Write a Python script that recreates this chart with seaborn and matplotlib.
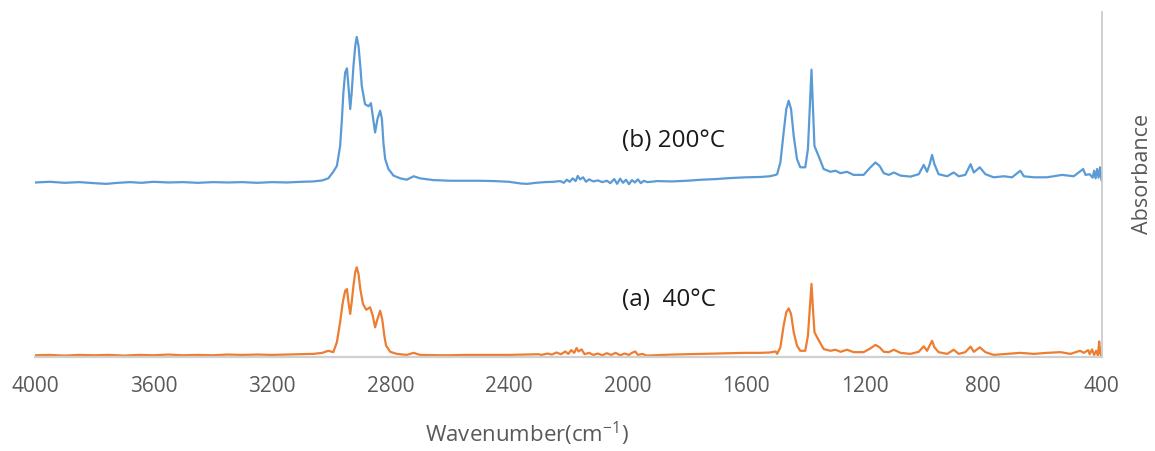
import numpy as np
import pandas as pd
import matplotlib
matplotlib.use("Agg")
import matplotlib.pyplot as plt
import seaborn as sns

# FTIR spectra (wavenumber in cm-1, absorbance in arbitrary units)
wn_b = [4000, 3950, 3900, 3850, 3800, 3760, 3720, 3680, 3640, 3600, 3550, 3500, 3450, 3400,
        3350, 3300, 3250, 3200, 3150, 3100, 3060, 3030, 3010, 2994, 2981, 2970, 2964, 2959,
        2953, 2947, 2942, 2936, 2931, 2925, 2919, 2914, 2908, 2902, 2897, 2886, 2874, 2866,
        2860, 2852, 2844, 2835, 2829, 2824, 2818, 2807, 2790, 2767, 2745, 2722, 2700, 2656,
        2598, 2550, 2500, 2450, 2400, 2360, 2338, 2310, 2280, 2250, 2227, 2215, 2205, 2195,
        2185, 2175, 2168, 2160, 2150, 2140, 2130, 2115, 2100, 2085, 2070, 2058, 2045, 2035,
        2025, 2015, 2005, 1995, 1985, 1975, 1965, 1955, 1945, 1933, 1900, 1850, 1800, 1750,
        1700, 1650, 1600, 1550, 1520, 1500, 1495, 1484, 1473, 1464, 1456, 1448, 1439, 1428,
        1417, 1400, 1391, 1385, 1379, 1374, 1369, 1360, 1351, 1338, 1315, 1298, 1281, 1259,
        1237, 1203, 1180, 1163, 1149, 1135, 1118, 1101, 1079, 1045, 1017, 1000, 989, 980,
        972, 964, 950, 921, 899, 882, 860, 842, 831, 811, 792, 764, 730, 702, 674, 662, 629,
        584, 533, 494, 462, 454, 440, 430, 425, 420, 415, 410, 405, 400]
abs_b = [0.506, 0.508, 0.505, 0.507, 0.504, 0.502, 0.505, 0.507, 0.505, 0.508, 0.506, 0.507,
         0.505, 0.507, 0.506, 0.507, 0.505, 0.507, 0.506, 0.508, 0.509, 0.512, 0.518, 0.536,
         0.554, 0.612, 0.690, 0.767, 0.825, 0.837, 0.786, 0.719, 0.767, 0.844, 0.902, 0.928,
         0.902, 0.844, 0.786, 0.733, 0.727, 0.736, 0.699, 0.651, 0.690, 0.714, 0.690, 0.622,
         0.574, 0.545, 0.526, 0.518, 0.514, 0.524, 0.518, 0.513, 0.511, 0.511, 0.511, 0.510,
         0.508, 0.503, 0.502, 0.505, 0.507, 0.508, 0.510, 0.505, 0.514, 0.508, 0.518, 0.510,
         0.525, 0.515, 0.521, 0.508, 0.515, 0.509, 0.512, 0.507, 0.511, 0.504, 0.516, 0.502,
         0.517, 0.505, 0.514, 0.501, 0.513, 0.506, 0.515, 0.504, 0.511, 0.507, 0.510, 0.509,
         0.511, 0.514, 0.516, 0.519, 0.521, 0.522, 0.524, 0.528, 0.530, 0.564, 0.651, 0.719,
         0.743, 0.719, 0.641, 0.574, 0.550, 0.550, 0.603, 0.719, 0.833, 0.719, 0.612, 0.593,
         0.574, 0.545, 0.537, 0.540, 0.533, 0.537, 0.528, 0.528, 0.550, 0.564, 0.554, 0.533,
         0.528, 0.535, 0.526, 0.523, 0.530, 0.557, 0.537, 0.559, 0.586, 0.559, 0.530, 0.524,
         0.535, 0.524, 0.528, 0.559, 0.535, 0.550, 0.530, 0.521, 0.524, 0.521, 0.540, 0.524,
         0.521, 0.521, 0.528, 0.524, 0.545, 0.528, 0.530, 0.520, 0.540, 0.518, 0.545, 0.520,
         0.550, 0.512]

wn_a = [4000, 3950, 3900, 3850, 3800, 3750, 3700, 3650, 3600, 3550, 3500, 3450, 3400, 3350,
        3300, 3250, 3200, 3150, 3100, 3060, 3030, 3010, 2993, 2981, 2970, 2961, 2953, 2947,
        2942, 2936, 2931, 2925, 2919, 2914, 2908, 2902, 2893, 2882, 2869, 2860, 2852, 2844,
        2835, 2828, 2821, 2815, 2801, 2779, 2745, 2722, 2700, 2632, 2600, 2550, 2500, 2450,
        2400, 2350, 2300, 2290, 2270, 2255, 2240, 2225, 2210, 2200, 2190, 2180, 2172, 2165,
        2155, 2145, 2130, 2115, 2100, 2085, 2070, 2055, 2040, 2025, 2010, 1995, 1985, 1974,
        1965, 1950, 1935, 1910, 1880, 1850, 1800, 1750, 1700, 1650, 1600, 1550, 1520, 1500,
        1495, 1484, 1473, 1464, 1456, 1448, 1439, 1428, 1417, 1400, 1391, 1385, 1379, 1374,
        1369, 1360, 1351, 1338, 1315, 1298, 1281, 1259, 1237, 1203, 1180, 1163, 1149, 1135,
        1118, 1101, 1079, 1045, 1017, 1000, 989, 980, 972, 964, 950, 921, 899, 882, 860, 842,
        831, 811, 792, 764, 720, 674, 629, 584, 539, 505, 472, 460, 445, 440, 432, 425, 418,
        412, 408, 404, 400]
abs_a = [0.005, 0.006, 0.004, 0.006, 0.005, 0.006, 0.004, 0.006, 0.005, 0.007, 0.005, 0.006,
         0.005, 0.007, 0.006, 0.007, 0.006, 0.007, 0.008, 0.009, 0.012, 0.018, 0.014, 0.043,
         0.101, 0.159, 0.192, 0.197, 0.159, 0.125, 0.159, 0.207, 0.246, 0.260, 0.241, 0.197,
         0.154, 0.137, 0.144, 0.120, 0.086, 0.110, 0.134, 0.110, 0.062, 0.033, 0.015, 0.009,
         0.006, 0.012, 0.006, 0.005, 0.005, 0.006, 0.006, 0.006, 0.006, 0.007, 0.008, 0.006,
         0.010, 0.007, 0.013, 0.008, 0.016, 0.009, 0.020, 0.012, 0.026, 0.016, 0.022, 0.008,
         0.012, 0.006, 0.010, 0.005, 0.011, 0.006, 0.012, 0.005, 0.010, 0.006, 0.012, 0.016,
         0.006, 0.009, 0.004, 0.005, 0.006, 0.007, 0.008, 0.009, 0.010, 0.011, 0.012, 0.012,
         0.013, 0.016, 0.009, 0.028, 0.091, 0.130, 0.141, 0.125, 0.072, 0.033, 0.018, 0.018,
         0.062, 0.139, 0.212, 0.139, 0.072, 0.057, 0.043, 0.023, 0.018, 0.021, 0.015, 0.021,
         0.014, 0.014, 0.025, 0.035, 0.028, 0.015, 0.014, 0.021, 0.012, 0.009, 0.015, 0.031,
         0.018, 0.033, 0.047, 0.028, 0.014, 0.009, 0.021, 0.009, 0.014, 0.030, 0.015, 0.028,
         0.014, 0.006, 0.009, 0.012, 0.009, 0.012, 0.014, 0.009, 0.018, 0.012, 0.020, 0.008,
         0.022, 0.006, 0.018, 0.004, 0.045, 0.010, 0.003]

x_ticks = [4000, 3600, 3200, 2800, 2400, 2000, 1600, 1200, 800, 400]
label_b = "(b) 200°C"
label_a = "(a)  40°C"

sns.set_theme(style="white")
plt.rcParams['font.family'] = ['Open Sans', 'DejaVu Sans']
plt.rcParams['mathtext.fontset'] = 'custom'
plt.rcParams['mathtext.rm'] = 'Open Sans'

fig, ax = plt.subplots(figsize=(11.55, 4.52), dpi=100)
fig.subplots_adjust(left=0.0303, right=0.9537, bottom=0.208, top=0.971)

sns.lineplot(x=wn_b, y=abs_b, ax=ax, color='#5B9BD5', lw=1.6, sort=False)
sns.lineplot(x=wn_a, y=abs_a, ax=ax, color='#ED7D31', lw=1.6, sort=False)

ax.set_xlim(4000, 400)
ax.set_ylim(0, 1)
ax.set_xticks(x_ticks)
ax.set_xticklabels([str(t) for t in x_ticks])
ax.set_yticks([])
ax.tick_params(axis='x', length=0, pad=13, labelsize=15, labelcolor='#595959')

for side in ['top', 'left']:
    ax.spines[side].set_visible(False)
ax.spines['bottom'].set_color('#d0d0d0')
ax.spines['bottom'].set_linewidth(1.6)
ax.spines['right'].set_color('#c8c8c8')
ax.spines['right'].set_linewidth(1.2)

ax.set_xlabel('Wavenumber(cm$^{\\mathregular{-1}}$)', fontsize=16, color='#595959')
ax.xaxis.set_label_coords((527 - 35) / 1066, -0.18)
ax.set_ylabel('')
fig.text(1143 / 1155, 1 - 174 / 452, 'Absorbance', rotation=90, ha='center', va='center',
         fontsize=15.5, color='#595959')

ax.text(2018, 0.629, label_b, ha='left', va='center', fontsize=17.5, color='#1a1a1a')
ax.text(2018, 0.168, label_a, ha='left', va='center', fontsize=17.5, color='#1a1a1a')

fig.savefig('out.png', dpi=100)
